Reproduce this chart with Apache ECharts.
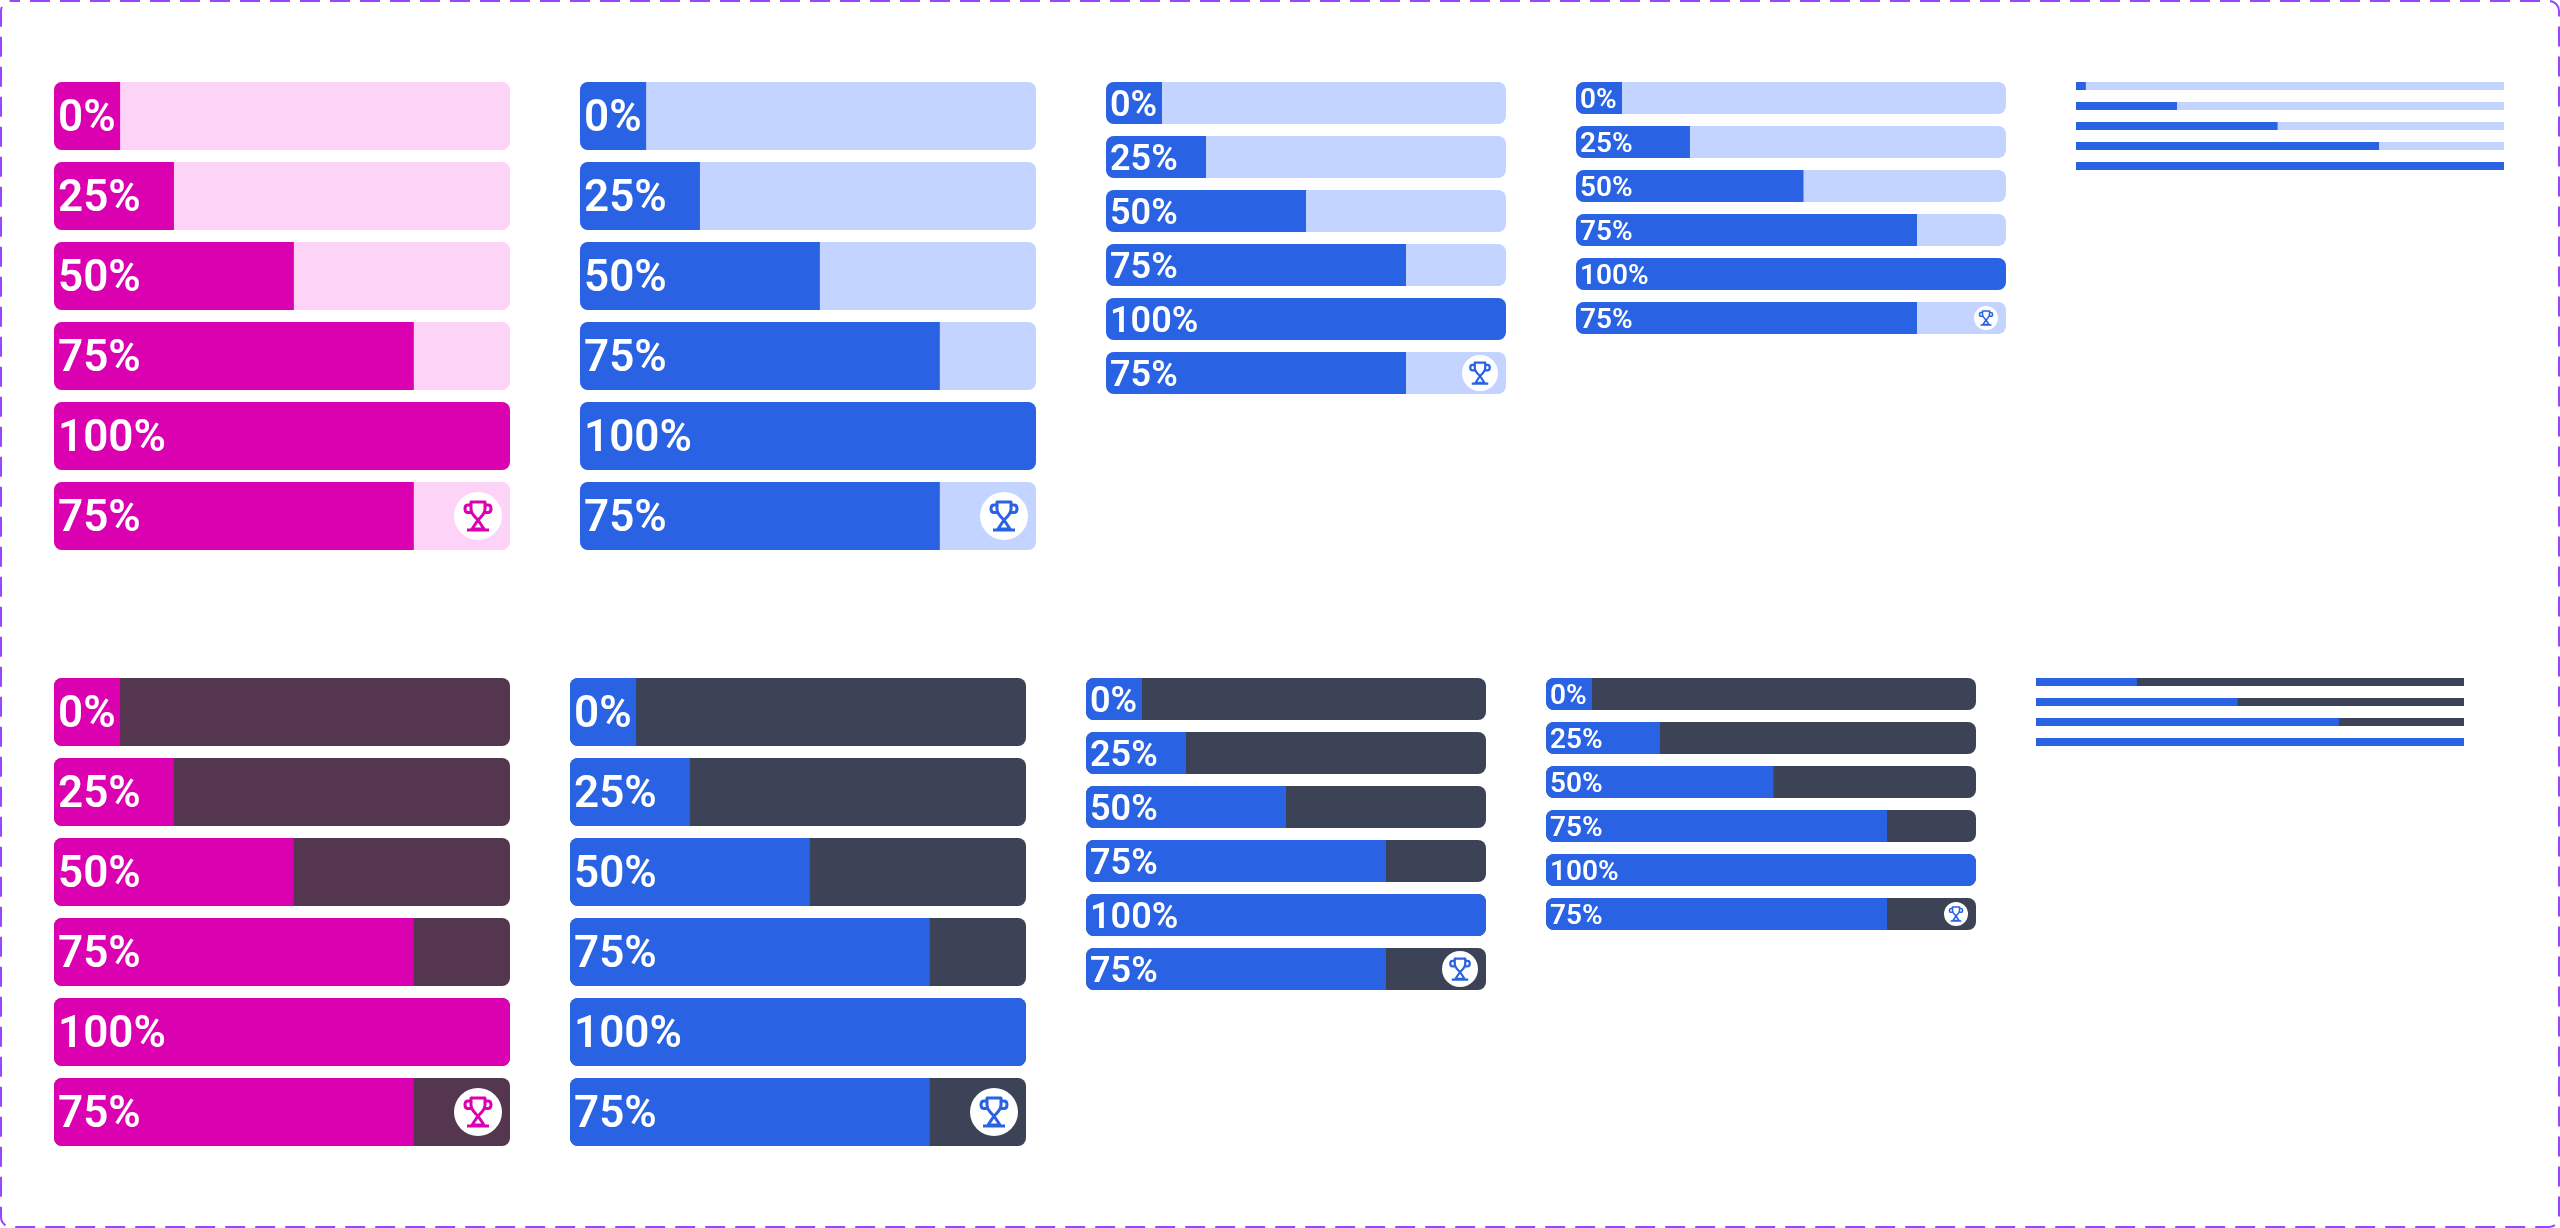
<!DOCTYPE html>
<html>
<head>
<meta charset="utf-8">
<style>html,body{margin:0;padding:0;background:#fff}#c{width:2560px;height:1228px}</style>
<script src="https://cdn.jsdelivr.net/npm/echarts@6/dist/echarts.min.js"></script>
</head>
<body>
<div id="c"></div>
<script>
const rowLabels = ['0%', '25%', '50%', '75%', '100%', '75%'];
const thinDarkLabels = ['25%', '50%', '75%', '100%'];
const trackFull = [100, 100, 100, 100, 100, 100];
const largeFill = [14.5, 26.3, 52.6, 78.9, 100, 78.9];
const mediumFill = [14, 25, 50, 75, 100, 75];
const smallFill = [10.7, 26.5, 52.9, 79.3, 100, 79.3];
const thinFill = [2.3, 23.6, 47.1, 70.8, 100];
const thinDarkFill = [23.6, 47.1, 70.8, 100];
const trophyRow = [5];

const PINK = '#DB00B0', PINK_LIGHT = '#FDD3F7', PINK_DARK = '#54364E';
const BLUE = '#2962E3', BLUE_LIGHT = '#C2D4FF', SLATE = '#3C4356';

const panels = [
  {x:54,   y:82,  w:456, h:68, gap:12, r:8, font:44, dot:48, fill:PINK, track:PINK_LIGHT, values:largeFill, names:rowLabels, trophy:trophyRow},
  {x:580,  y:82,  w:456, h:68, gap:12, r:8, font:44, dot:48, fill:BLUE, track:BLUE_LIGHT, values:largeFill, names:rowLabels, trophy:trophyRow},
  {x:1106, y:82,  w:400, h:42, gap:12, r:8, font:36, dot:36, fill:BLUE, track:BLUE_LIGHT, values:mediumFill, names:rowLabels, trophy:trophyRow},
  {x:1576, y:82,  w:430, h:32, gap:12, r:8, font:28, dot:24, fill:BLUE, track:BLUE_LIGHT, values:smallFill, names:rowLabels, trophy:trophyRow},
  {x:2076, y:82,  w:428, h:8,  gap:12, r:0, font:0,  dot:0,  fill:BLUE, track:BLUE_LIGHT, values:thinFill, names:rowLabels.slice(0,5), trophy:[]},
  {x:54,   y:678, w:456, h:68, gap:12, r:8, font:44, dot:48, fill:PINK, track:PINK_DARK, values:largeFill, names:rowLabels, trophy:trophyRow},
  {x:570,  y:678, w:456, h:68, gap:12, r:8, font:44, dot:48, fill:BLUE, track:SLATE, values:largeFill, names:rowLabels, trophy:trophyRow},
  {x:1086, y:678, w:400, h:42, gap:12, r:8, font:36, dot:36, fill:BLUE, track:SLATE, values:mediumFill, names:rowLabels, trophy:trophyRow},
  {x:1546, y:678, w:430, h:32, gap:12, r:8, font:28, dot:24, fill:BLUE, track:SLATE, values:smallFill, names:rowLabels, trophy:trophyRow},
  {x:2036, y:678, w:428, h:8,  gap:12, r:0, font:0,  dot:0,  fill:BLUE, track:SLATE, values:thinDarkFill, names:thinDarkLabels, trophy:[]}
];

const TROPHY = 'M-7,-14 H7 V-7 C7,-2 3,1 0,4 C-3,1 -7,-2 -7,-7 Z ' +
  'M-7,-11 H-10 C-14,-11 -14,-3.5 -10,-3.5 H-6 M7,-11 H10 C14,-11 14,-3.5 10,-3.5 H6 ' +
  'M0,4 L-6,13 H6 Z M-11,14 H11';

const grids = [], xAxes = [], yAxes = [], series = [];
panels.forEach((p, i) => {
  const pitch = p.h + p.gap;
  grids.push({left:p.x, top:p.y - p.gap/2, width:p.w, height:pitch*p.values.length, containLabel:false});
  xAxes.push({type:'value', gridIndex:i, min:0, max:100, show:false});
  yAxes.push({type:'category', gridIndex:i, inverse:true, show:false, data:p.names});
  series.push({
    type:'bar', xAxisIndex:i, yAxisIndex:i, barWidth:p.h, silent:true, z:1,
    data:trackFull.slice(0,p.values.length),
    itemStyle:{color:p.track, borderRadius:p.r}
  });
  series.push({
    type:'bar', xAxisIndex:i, yAxisIndex:i, barWidth:p.h, barGap:'-100%', silent:true, z:2,
    data:p.values.map(v => ({value:v, itemStyle:{color:p.fill,
      borderRadius: v >= 100 ? p.r : [p.r,0,0,p.r]}})),
    label:{
      show:p.font > 0, position:'insideLeft', distance:4, offset:[0, p.font*0.1],
      formatter:(d) => p.names[d.dataIndex],
      color:'#fff', fontFamily:'Roboto', fontWeight:600, fontSize:p.font || 12
    }
  });
  if (p.trophy.length) {
    series.push({
      type:'custom', xAxisIndex:i, yAxisIndex:i, silent:true, z:3,
      data:p.trophy.map(r => [100, r]),
      encode:{x:0, y:1},
      renderItem:(params, api) => {
        const end = api.coord([api.value(0), api.value(1)]);
        const rad = p.dot/2, cx = end[0] - 8 - rad, cy = end[1];
        const s = p.dot/48;
        return {type:'group', children:[
          {type:'circle', shape:{cx, cy, r:rad}, style:{fill:'#fff'}},
          {type:'path', x:cx, y:cy, scaleX:s, scaleY:s, shape:{pathData:TROPHY},
           style:{fill:'none', stroke:p.fill, lineWidth:3, lineJoin:'round'}}
        ]};
      }
    });
  }
});

const chart = echarts.init(document.getElementById('c'));
chart.setOption({
  animation:false, backgroundColor:'#fff',
  grid:grids, xAxis:xAxes, yAxis:yAxes, series:series,
  graphic:[{type:'rect', silent:true, z:0,
    shape:{x:1, y:1, width:2558, height:1226, r:10},
    style:{fill:'none', stroke:'#9747FF', lineWidth:2, lineDash:[20,10], lineDashOffset:11}}]
});
</script>
</body>
</html>
